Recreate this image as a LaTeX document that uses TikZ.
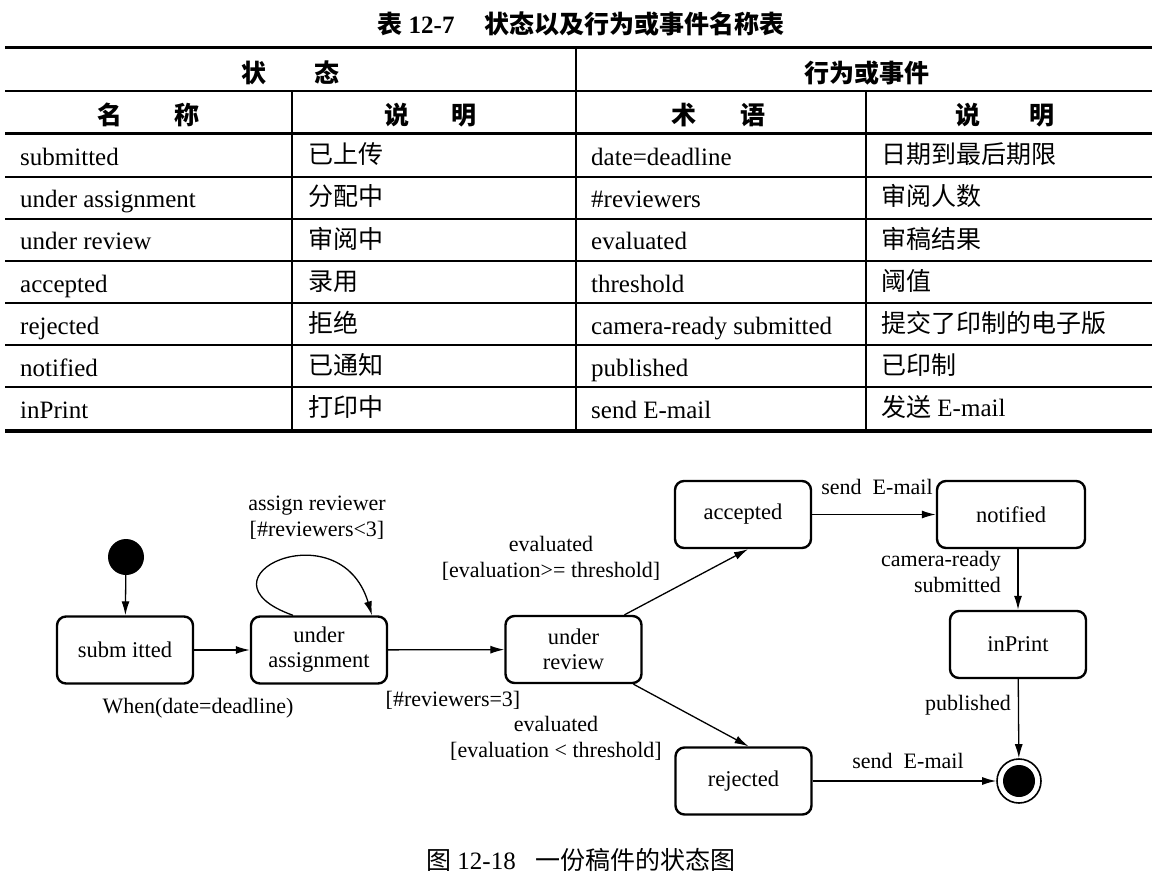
\documentclass[tikz,border=0pt]{standalone}
\usepackage{fontspec}
\setmainfont{Liberation Serif}
\newfontfamily\cjk{Noto Sans CJK SC}
\usetikzlibrary{arrows.meta}
\tikzset{
  cell/.style={anchor=base west, inner sep=0pt, font=\fontsize{25}{30}\selectfont},
  head/.style={inner sep=0pt, font=\fontsize{25}{30}\selectfont\bfseries},
  rulethin/.style={line width=1.8pt},
  rulethick/.style={line width=2.7pt},
  vrule/.style={line width=1.5pt},
  state/.style={draw, line width=2.4pt, rounded corners=9pt, minimum width=136pt,
    minimum height=67pt, inner sep=0pt, align=center, font=\fontsize{22.5}{25}\selectfont},
  lbl/.style={inner sep=0pt, align=center, font=\fontsize{22}{26}\selectfont},
  arr/.style={line width=1.3pt, -{Latex[length=14pt,width=8pt]}},
}
\begin{document}
\begin{tikzpicture}[x=1pt,y=-1pt]
\useasboundingbox (0,0) rectangle (1166,885);
\fill[white] (0,0) rectangle (1166,885);

% ---------- table ----------
\node[head] (title) at (581,24) {{\cjk\bfseries 表} 12-7\hspace{30pt}{\cjk\bfseries 状态以及行为或事件名称表}};

\draw[line width=3pt] (5,48) -- (1152,48);
\draw[line width=1.6pt] (5,91) -- (1152,91);
\draw[line width=3pt] (5,134) -- (1152,134);
\foreach \y in {177,219,261} \draw[rulethin] (5,\y) -- (1152,\y);
\foreach \y in {303,345,387} \draw[rulethick] (5,\y) -- (1152,\y);
\draw[line width=3.5pt] (5,431) -- (1152,431);
\draw[vrule] (576,48) -- (576,431);
\draw[vrule] (292,91) -- (292,431);
\draw[vrule] (866,91) -- (866,431);

\node[head] (h1) at (290,73) {\cjk\bfseries 状\hspace{48pt}态};
\node[head] (h2) at (867,73) {\cjk\bfseries 行为或事件};
\node[head] (h3) at (148,115) {\cjk\bfseries 名\hspace{52pt}称};
\node[head] (h4) at (430,115) {\cjk\bfseries 说\hspace{42pt}明};
\node[head] (h5) at (718,115) {\cjk\bfseries 术\hspace{44pt}语};
\node[head] (h6) at (1005,115) {\cjk\bfseries 说\hspace{49pt}明};

\node[cell] (a1) at (20,166) {submitted};
\node[cell] (a2) at (20,208) {under assignment};
\node[cell] (a3) at (20,250) {under review};
\node[cell] (a4) at (20,292) {accepted};
\node[cell] (a5) at (20,334) {rejected};
\node[cell] (a6) at (20,376) {notified};
\node[cell] (a7) at (20,418) {inPrint};

\node[cell] (b1) at (308,164) {\cjk 已上传};
\node[cell] (b2) at (308,206) {\cjk 分配中};
\node[cell] (b3) at (308,248) {\cjk 审阅中};
\node[cell] (b4) at (308,290) {\cjk 录用};
\node[cell] (b5) at (308,332) {\cjk 拒绝};
\node[cell] (b6) at (308,374) {\cjk 已通知};
\node[cell] (b7) at (308,416) {\cjk 打印中};

\node[cell] (c1) at (591,166) {date=deadline};
\node[cell] (c2) at (591,208) {\#reviewers};
\node[cell] (c3) at (591,250) {evaluated};
\node[cell] (c4) at (591,292) {threshold};
\node[cell] (c5) at (591,334) {camera-ready submitted};
\node[cell] (c6) at (591,376) {published};
\node[cell] (c7) at (591,418) {send E-mail};

\node[cell] (d1) at (881,164) {\cjk 日期到最后期限};
\node[cell] (d2) at (881,206) {\cjk 审阅人数};
\node[cell] (d3) at (881,248) {\cjk 审稿结果};
\node[cell] (d4) at (881,290) {\cjk 阈值};
\node[cell] (d5) at (881,332) {\cjk 提交了印制的电子版};
\node[cell] (d6) at (881,374) {\cjk 已印制};
\node[cell] (d7) at (881,416) {{\cjk 发送} E-mail};

% ---------- state diagram ----------
\node[circle, fill=black, minimum size=36pt, inner sep=0pt] (init) at (126,557) {};
\node[state] (sub) at (125,650) {subm itted};
\node[state] (ua) at (319,650) {under\\assignment};
\node[state] (ur) at (573.5,649.5) {under\\review};
\node[state] (acc) at (743,514.5) {accepted};
\node[state, minimum width=148pt] (not) at (1011,514.5) {notified};
\node[state] (inp) at (1018,644.5) {inPrint};
\node[state] (rej) at (743.5,781) {rejected};
\node[circle, draw, line width=1.6pt, minimum size=44pt, inner sep=0pt] (fin) at (1019,781) {};
\node[circle, fill=black, minimum size=32pt, inner sep=0pt] (finin) at (fin) {};

\draw[arr] (init) -- (sub);
\draw[arr] (sub) -- (ua);
\draw[arr] (ua) -- (ur);
\draw[arr] ([xshift=-26pt]ua.north) .. controls (188,578) and (340,508) .. ([xshift=53pt]ua.north);
\draw[arr] ([xshift=51pt]ur.north) -- ([xshift=5pt]acc.south);
\draw[arr] ([xshift=60pt]ur.south) -- ([xshift=5pt]rej.north);
\draw[arr] (acc) -- (not);
\draw[arr] (not.south -| inp.north) -- (inp.north);
\draw[arr] (inp) -- (fin);
\draw[arr] (rej) -- (fin);

\node[lbl] (l1) at (317,518) {assign reviewer\\{}[\#reviewers<3]};
\node[lbl] (l2) at (198,708) {When(date=deadline)};
\node[lbl] (l3) at (453,700) {[\#reviewers=3]};
\node[lbl] (l4) at (551,558) {evaluated\\{}[evaluation>= threshold]};
\node[lbl] (l5) at (556,738) {evaluated\\{}[evaluation < threshold]};
\node[lbl] (l6) at (877,487) {send\ \ E-mail};
\node[lbl, anchor=east, align=right] (l7) at (1001,572) {camera-ready\\submitted};
\node[lbl] (l8) at (968,705) {published};
\node[lbl] (l9) at (908,761) {send\ \ E-mail};

\node[inner sep=0pt, font=\fontsize{25}{30}\selectfont] (cap) at (581,860) {{\cjk 图} 12-18\hspace{20pt}{\cjk 一份稿件的状态图}};
\end{tikzpicture}
\end{document}
